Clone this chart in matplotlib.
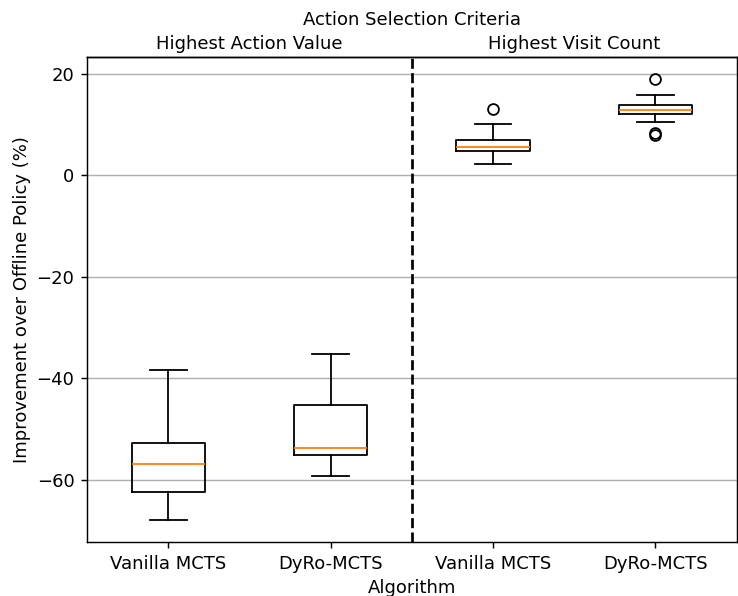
import matplotlib
matplotlib.use("Agg")
import matplotlib.pyplot as plt

algorithms = ["Vanilla MCTS", "DyRo-MCTS", "Vanilla MCTS", "DyRo-MCTS"]
criteria = ["Highest Action Value", "Highest Visit Count"]

whisker_low = [-68.0, -59.2, 2.2, 10.4]
q1 = [-62.5, -55.1, 4.8, 12.0]
median = [-57.0, -53.8, 5.6, 12.8]
q3 = [-52.8, -45.3, 7.0, 13.8]
whisker_high = [-38.4, -35.3, 10.0, 15.7]
outliers = [[], [], [13.0], [19.0, 8.4, 7.9]]

DPI = 130

stats = []
for i in range(len(algorithms)):
    stats.append({
        "label": algorithms[i],
        "whislo": whisker_low[i],
        "q1": q1[i],
        "med": median[i],
        "q3": q3[i],
        "whishi": whisker_high[i],
        "fliers": outliers[i],
    })

fig, ax = plt.subplots(figsize=(738 / DPI, 596 / DPI), dpi=DPI)
positions = [1, 2, 3, 4]
ax.bxp(stats, positions=positions, widths=0.45)

ax.axvline(2.5, color="black", linestyle="--", linewidth=1.5)
ax.yaxis.grid(True, color="#b0b0b0")
ax.set_axisbelow(True)
ax.set_xlim(0.5, 4.5)
ax.set_xlabel("Algorithm", labelpad=3.5)
ax.set_ylabel("Improvement over Offline Policy (%)", labelpad=3)

top = ax.secondary_xaxis("top")
top.set_xticks([1.5, 3.5])
top.set_xticklabels(criteria)
top.tick_params(length=0, pad=2)
top.set_xlabel("Action Selection Criteria", labelpad=5.5)

fig.subplots_adjust(left=0.118, right=0.998, top=0.905, bottom=0.09)
fig.savefig("out.png", dpi=DPI)
